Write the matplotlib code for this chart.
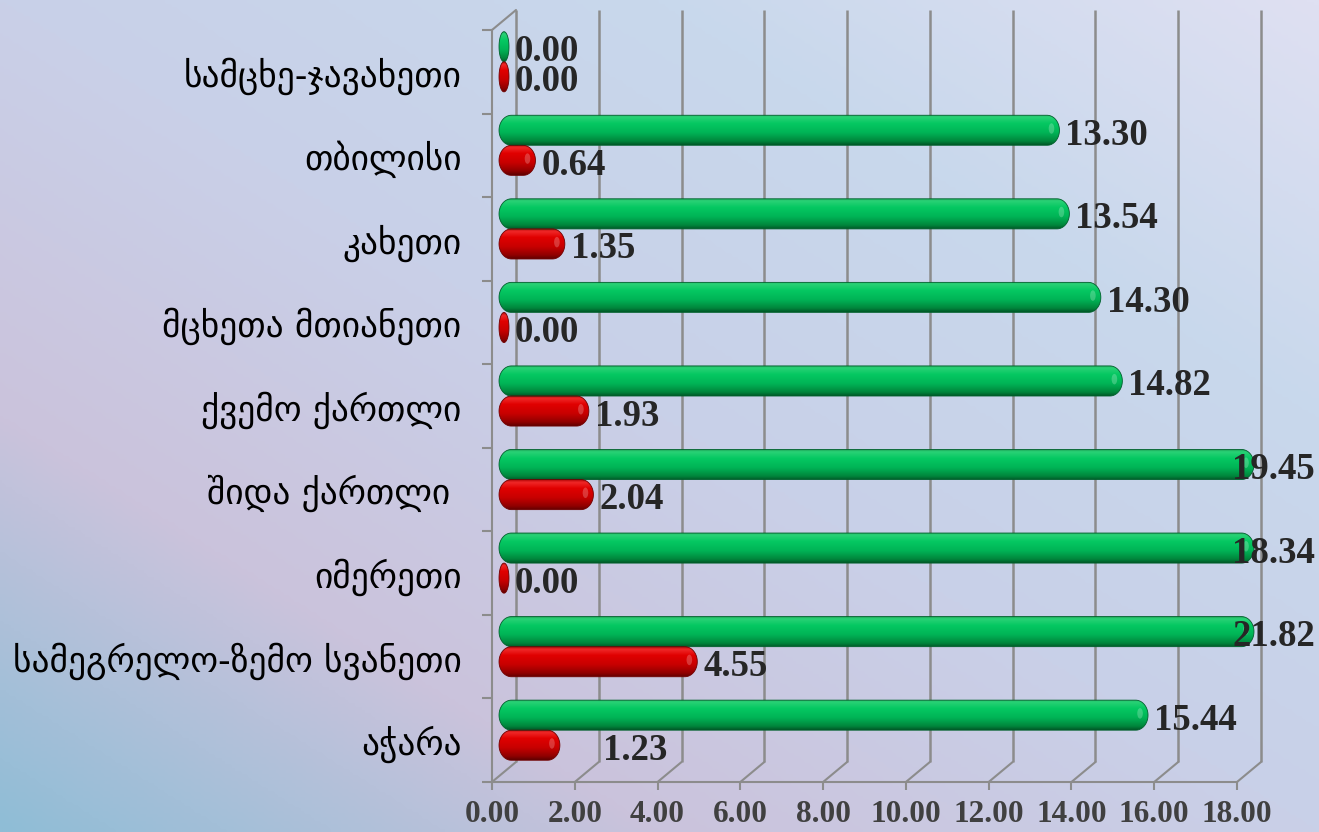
import numpy as np
import matplotlib
matplotlib.use("Agg")
import matplotlib.pyplot as plt
import matplotlib.transforms as mtransforms
from matplotlib.patches import ConnectionPatch, PathPatch, Ellipse
from matplotlib.path import Path
from matplotlib.colors import LinearSegmentedColormap

# regions, bottom to top
regions = ["აჭარა", "სამეგრელო-ზემო სვანეთი", "იმერეთი", "შიდა ქართლი ",
           "ქვემო ქართლი", "მცხეთა მთიანეთი", "კახეთი", "თბილისი",
           "სამცხე-ჯავახეთი"]
green_vals = [15.44, 21.82, 18.34, 19.45, 14.82, 14.30, 13.54, 13.30, 0.00]
red_vals = [1.23, 4.55, 0.00, 2.04, 1.93, 0.00, 1.35, 0.64, 0.00]
x_ticks = [0, 2, 4, 6, 8, 10, 12, 14, 16, 18]

XMAX = 18
W, H, DPI = 1319, 832, 100

fig = plt.figure(figsize=(W / DPI, H / DPI), dpi=DPI)

# background gradient
bg = fig.add_axes([0, 0, 1, 1], zorder=-5)
bg.set_axis_off()
gx, gy = np.meshgrid(np.linspace(0, 1, 400), np.linspace(1, 0, 250))
t = (gx + gy) / 2
stops = [(0.0, "#8fbdd6"), (0.25, "#cbc3dc"), (0.5, "#c9d0e8"),
         (0.75, "#c8d8ec"), (1.0, "#dfe0f2")]
bg_cmap = LinearSegmentedColormap.from_list("bg", stops)
bg.imshow(bg_cmap(t), extent=(0, 1, 0, 1), aspect="auto", interpolation="bilinear")
bg.set_xlim(0, 1)
bg.set_ylim(0, 1)

ax = fig.add_axes([492 / W, 50 / H, (1237 - 492) / W, (782 - 30) / H])
ax.set_facecolor("none")

# depth offsets: back wall and the plane the bars sit in
back = ax.transData + mtransforms.ScaledTranslation(0.24, 0.20, fig.dpi_scale_trans)
mid = ax.transData + mtransforms.ScaledTranslation(0.12, 0.10, fig.dpi_scale_trans)

grid_c = "#8c8c8c"
ylo, yhi = -0.5, len(regions) - 0.5

# back wall gridlines and floor diagonals
for x in x_ticks:
    ax.plot([x, x], [ylo, yhi], color=grid_c, lw=1.8, transform=back,
            clip_on=False, zorder=1, solid_capstyle="butt")
    ax.add_artist(ConnectionPatch((x, ylo), (x, ylo), coordsA=ax.transData,
                                  coordsB=back, color=grid_c, lw=1.5,
                                  shrinkA=0, shrinkB=0, zorder=1))
ax.add_artist(ConnectionPatch((0, yhi), (0, yhi), coordsA=ax.transData,
                              coordsB=back, color=grid_c, lw=1.5,
                              shrinkA=0, shrinkB=0, zorder=1))

for s in ["top", "right"]:
    ax.spines[s].set_visible(False)
for s in ["left", "bottom"]:
    ax.spines[s].set_color(grid_c)
    ax.spines[s].set_linewidth(1.5)

ax.set_xlim(0, XMAX)
ax.set_ylim(ylo, yhi)
ax.set_xticks(x_ticks)
ax.set_xticklabels([f"{v:.2f}" for v in x_ticks])
ax.tick_params(axis="x", length=6, width=1.5, color=grid_c, pad=7,
               labelsize=22.5, labelcolor="#404040")
for lab in ax.get_xticklabels():
    lab.set_fontfamily("Liberation Serif")
    lab.set_fontweight("bold")

ax.set_yticks(range(len(regions)))
ax.set_yticklabels(regions)
ax.set_yticks(np.arange(ylo, yhi + 0.1, 1), minor=True)
ax.tick_params(axis="y", which="major", length=0, pad=22, labelsize=25.5,
               labelcolor="black")
ax.tick_params(axis="y", which="minor", length=7.5, width=1.5, color=grid_c)
for lab in ax.get_yticklabels():
    lab.set_fontfamily(["DejaVu Sans"])


def pill(x1, yc, h, e, a):
    # rounded cylinder outline from -e to x1+e, caps of half-width a
    th = np.linspace(-np.pi / 2, np.pi / 2, 40)
    cr = x1 + e - a
    cl = -e + a
    if cr < cl:
        cr = cl = x1 / 2
        a = e + x1 / 2
    right = np.column_stack([cr + a * np.cos(th), yc + h / 2 * np.sin(th)])
    left = np.column_stack([cl - a * np.cos(th), yc - h / 2 * np.sin(th)])
    verts = np.vstack([right, left, right[:1]])
    return Path(verts, closed=True)


green_cmap = LinearSegmentedColormap.from_list("g", [
    (0.0, "#1a9a50"), (0.08, "#2ad276"), (0.3, "#05c862"),
    (0.6, "#00b456"), (0.88, "#00863c"), (1.0, "#005a28")])
red_cmap = LinearSegmentedColormap.from_list("r", [
    (0.0, "#a80000"), (0.1, "#f02828"), (0.3, "#e00000"),
    (0.6, "#c80000"), (0.88, "#900000"), (1.0, "#600000")])

bar_h = 0.36
cap_e = 0.12
cap_a = 0.30
shade = np.linspace(0, 1, 64)

label_font = dict(family="Liberation Serif", weight="bold", size=26.5,
                  color="#262626")

for vals, cmap, dy, edge in ((green_vals, green_cmap, 0.18, "#00602c"),
                             (red_vals, red_cmap, -0.18, "#700000")):
    for i, v in enumerate(vals):
        yc = i + dy
        x1 = min(v, XMAX)
        path = pill(x1, yc, bar_h, cap_e, cap_a)
        patch = PathPatch(path, facecolor="none", edgecolor=edge, lw=0.6,
                          transform=mid, clip_on=False, zorder=4)
        ax.add_patch(patch)
        im = ax.imshow(cmap(shade)[:, None, :],
                       extent=(-cap_e, x1 + cap_e, yc - bar_h / 2, yc + bar_h / 2),
                       origin="upper", aspect="auto", interpolation="bilinear",
                       transform=mid, zorder=3)
        im.set_clip_box(fig.bbox)
        im.set_clip_path(patch)
        # specular highlight on the rounded end
        if v > 0.3:
            ax.add_patch(Ellipse((x1 - cap_e * 0.6, yc + bar_h * 0.06),
                                 cap_a * 0.45, bar_h * 0.35, facecolor="white",
                                 alpha=0.22, lw=0, transform=mid,
                                 clip_on=False, zorder=5))

        if v > XMAX:
            off = -0.17
        else:
            off = 0.11
        if regions[i] == "აჭარა" and dy < 0:
            off += 0.37
        tr = mid + mtransforms.ScaledTranslation(off, -0.05, fig.dpi_scale_trans)
        ax.text(x1, yc, f"{v:.2f}", transform=tr, ha="left", va="center",
                zorder=6, clip_on=False, **label_font)

ax.set_xlim(0, XMAX)
ax.set_ylim(ylo, yhi)

fig.savefig("out.png", dpi=DPI)
